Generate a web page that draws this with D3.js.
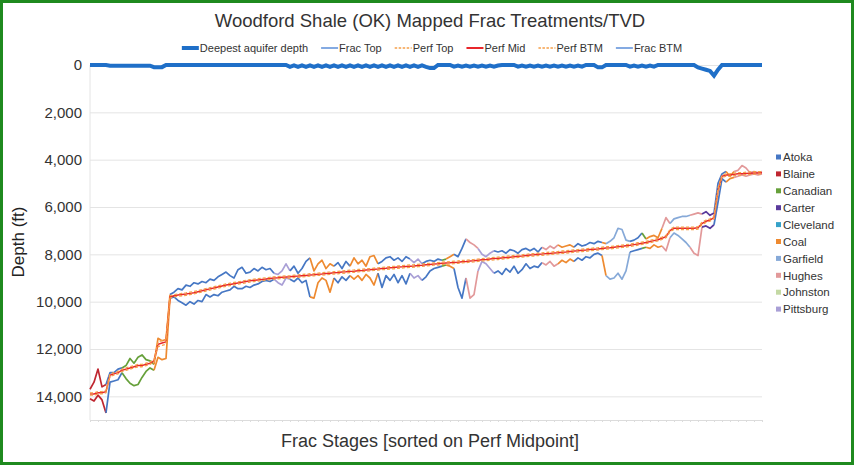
<!DOCTYPE html>
<html>
<head>
<meta charset="utf-8">
<title>Woodford Shale (OK) Mapped Frac Treatments/TVD</title>
<style>
    body { margin: 0; background: #fff; }
    svg { display: block; font-family: "Liberation Sans", Arial, sans-serif; }
    .grid line { stroke: #e4e4e4; stroke-width: 1; }
    .grid .domain { display: none; }
    .yaxis .domain { display: none; }
    .yaxis text { fill: #333; font-size: 15px; }
    .xaxis .domain { stroke: #dcdcdc; }
    .xaxis line { stroke: #dcdcdc; }
    .frac { fill: none; stroke-width: 1.7px; stroke-linejoin: round; }
    .perf-mid { fill: none; stroke: #e8262b; stroke-width: 1.5px; }
    .perf-edge { fill: none; stroke: #f5a04a; stroke-width: 1.3px; stroke-dasharray: 3 2; }
    .aquifer { fill: none; stroke: #1f6fc8; stroke-width: 4px; }
</style>
</head>
<body>
<svg id="chart" width="854" height="465"></svg>
<script src="https://cdn.jsdelivr.net/npm/d3@7"></script>
<script>
// depth values in ft, one entry per frac stage (sorted on perf midpoint)
let perfMid = [
    13900,13900,13850,13850,13800,13100,13050,13000,12900,12850,
    12800,12750,12700,12700,12650,12600,12500,11800,11750,11700,
    9800,9750,9720,9700,9680,9650,9620,9580,9540,9500,
    9460,9420,9380,9340,9300,9270,9240,9210,9180,9150,
    9120,9100,9080,9060,9040,9020,9000,8990,8970,8960,
    8950,8930,8920,8900,8890,8870,8860,8840,8830,8810,
    8800,8780,8770,8750,8740,8720,8710,8690,8680,8660,
    8650,8630,8620,8600,8590,8570,8560,8540,8530,8510,
    8500,8490,8470,8460,8440,8430,8410,8400,8380,8370,
    8360,8340,8330,8310,8300,8280,8270,8250,8230,8220,
    8200,8180,8170,8150,8130,8120,8100,8080,8070,8050,
    8030,8020,8000,7990,7970,7960,7940,7930,7910,7900,
    7880,7860,7850,7830,7820,7800,7780,7770,7750,7730,
    7720,7700,7680,7660,7640,7620,7590,7560,7530,7500,
    7460,7420,7380,7320,7250,7000,6900,6900,6900,6900,
    6900,6900,6880,6700,6600,6550,6450,5300,4700,4650,
    4650,4620,4600,4600,4580,4570,4560,4560,4550
]

let perfTop = [
    13850,13850,13800,13800,13750,13050,13000,12950,12850,12800,
    12750,12700,12650,12650,12600,12550,12450,11700,11650,11600,
    9750,9700,9680,9650,9630,9600,9570,9530,9490,9450,
    9410,9370,9330,9290,9250,9220,9190,9160,9130,9100,
    9070,9050,9030,9010,8990,8970,8950,8940,8920,8910,
    8900,8880,8870,8850,8840,8820,8810,8790,8780,8760,
    8750,8730,8720,8700,8690,8670,8660,8640,8630,8610,
    8600,8580,8570,8550,8540,8520,8510,8490,8480,8460,
    8450,8440,8420,8410,8390,8380,8360,8350,8330,8320,
    8310,8290,8280,8260,8250,8230,8220,8200,8180,8170,
    8150,8130,8120,8100,8080,8070,8050,8030,8020,8000,
    7980,7970,7950,7940,7920,7910,7890,7880,7860,7850,
    7830,7810,7800,7780,7770,7750,7730,7720,7700,7680,
    7670,7650,7630,7610,7590,7570,7540,7510,7480,7450,
    7410,7370,7330,7270,7200,6950,6850,6850,6850,6850,
    6850,6850,6830,6650,6550,6500,6400,5200,4650,4600,
    4600,4570,4550,4550,4530,4520,4510,4510,4500
]

let perfBtm = [
    13950,13950,13900,13900,13850,13150,13100,13050,12950,12900,
    12850,12800,12750,12750,12700,12650,12550,11900,11850,11800,
    9850,9800,9770,9750,9730,9700,9670,9630,9590,9550,
    9510,9470,9430,9390,9350,9320,9290,9260,9230,9200,
    9170,9150,9130,9110,9090,9070,9050,9040,9020,9010,
    9000,8980,8970,8950,8940,8920,8910,8890,8880,8860,
    8850,8830,8820,8800,8790,8770,8760,8740,8730,8710,
    8700,8680,8670,8650,8640,8620,8610,8590,8580,8560,
    8550,8540,8520,8510,8490,8480,8460,8450,8430,8420,
    8410,8390,8380,8360,8350,8330,8320,8300,8280,8270,
    8250,8230,8220,8200,8180,8170,8150,8130,8120,8100,
    8080,8070,8050,8040,8020,8010,7990,7980,7960,7950,
    7930,7910,7900,7880,7870,7850,7830,7820,7800,7780,
    7770,7750,7730,7710,7690,7670,7640,7610,7580,7550,
    7510,7470,7430,7370,7300,7050,6950,6950,6950,6950,
    6950,6950,6930,6750,6650,6600,6500,5400,4750,4700,
    4700,4670,4650,4650,4630,4620,4610,4610,4600
]

let fracTop = [
    13700,13400,12850,13600,13500,13000,13000,12850,12800,12700,
    12400,12600,12350,12250,12450,12500,12650,11550,11650,11600,
    9700,9600,9450,9500,9300,9350,9200,9250,9150,9200,
    9050,9100,8950,8850,8750,8900,9000,8650,8550,8800,
    8750,8600,8700,8550,8650,8600,8800,8850,8700,8400,
    8700,8500,8800,8600,8300,8150,8700,8400,8250,8600,
    8400,8500,8350,8600,8300,8500,8150,8400,8250,8500,
    8100,8050,8400,8300,8150,8100,8250,8150,8300,8100,
    8200,8350,8200,8400,8300,8250,8300,8200,8250,8200,
    8100,8000,8100,7750,7350,7500,7600,7750,8000,8100,
    7950,7850,7900,7850,7950,7800,7850,7950,7800,7750,
    7850,7750,7900,7700,7800,7650,7750,7600,7700,7650,
    7600,7700,7550,7650,7600,7500,7550,7450,7500,7550,
    7450,7300,6900,6950,7400,7450,7400,7300,7100,7350,
    7250,7200,7300,6900,6450,6700,6500,6450,6400,6400,
    6350,6300,6250,6300,6200,6350,6250,5000,4600,4500,
    4700,4500,4450,4250,4350,4550,4500,4550,4500
]

let fracBtm = [
    14100,14200,13950,14150,14700,13400,13350,13300,13000,13250,
    13450,13550,13500,13200,12950,12800,12900,12350,12450,12400,
    9850,9800,9950,10050,10150,10000,10100,9950,10000,9700,
    9800,9700,9750,9600,9550,9500,9350,9450,9450,9350,
    9400,9300,9250,9150,9100,9150,9050,9200,9300,9000,
    9050,9150,9000,9200,9100,9800,9850,9200,9000,9100,
    9600,9000,9200,8950,9100,8900,9050,8900,9100,8850,
    9000,9300,8800,9400,8900,9100,8850,9200,8900,9250,
    8800,9000,8900,9100,8950,8700,8600,8550,8500,8450,
    8500,8600,9400,9850,9000,9850,9700,8700,8300,8400,
    8600,8800,8700,8850,8600,8750,8500,8800,8650,8400,
    8600,8500,8550,8350,8450,8300,8500,8400,8250,8350,
    8200,8300,8150,8250,8100,8150,8000,7950,8050,8900,
    9050,9000,8800,9050,8700,7900,7850,7800,7750,7700,
    7750,7600,7700,7650,7850,7300,7100,7200,7350,7500,
    7700,7950,8050,6850,6800,6900,6750,5800,4800,4950,
    4800,4750,4700,4650,4700,4650,4600,4650,4600
]

let aquifer = [
    0,0,0,0,0,30,30,30,30,30,
    30,30,30,30,30,30,90,90,90,0,
    0,0,0,0,0,0,0,0,0,0,
    0,0,0,0,0,0,0,0,0,0,
    0,0,0,0,0,0,0,0,0,0,
    80,20,80,20,80,20,80,20,80,20,
    80,20,80,20,80,20,80,20,80,20,
    80,20,80,20,80,20,80,20,80,20,
    80,20,80,20,80,130,130,0,0,0,
    0,70,20,70,20,70,20,70,20,70,
    20,70,20,0,0,0,0,70,20,70,
    20,70,20,70,20,70,20,70,20,70,
    20,70,20,70,0,0,0,100,100,0,
    0,0,0,0,0,70,20,70,20,70,
    20,70,0,0,0,0,0,0,0,0,
    0,0,100,150,200,250,450,200,0,0,
    0,0,0,0,0,0,0,0,0
]

// runs of stages by county: [county, first stage, last stage]
let countyRuns = [
    ["Blaine", 0, 4], ["Atoka", 4, 8], ["Canadian", 8, 16], ["Coal", 16, 20],
    ["Atoka", 20, 46], ["Pittsburg", 46, 50], ["Atoka", 50, 55], ["Coal", 55, 61],
    ["Atoka", 61, 65], ["Coal", 65, 72], ["Atoka", 72, 80], ["Pittsburg", 80, 83],
    ["Atoka", 83, 88], ["Canadian", 88, 89], ["Coal", 89, 91], ["Atoka", 91, 94],
    ["Hughes", 94, 97], ["Pittsburg", 97, 101], ["Atoka", 101, 113], ["Hughes", 113, 117],
    ["Coal", 117, 121], ["Atoka", 121, 128], ["Coal", 128, 129], ["Garfield", 129, 135],
    ["Atoka", 135, 138], ["Canadian", 138, 139], ["Coal", 139, 143], ["Hughes", 143, 145],
    ["Garfield", 145, 150], ["Hughes", 150, 153], ["Carter", 153, 156], ["Atoka", 156, 159],
    ["Coal", 159, 161], ["Hughes", 161, 168]
]

let counties = ["Atoka", "Blaine", "Canadian", "Carter", "Cleveland", "Coal", "Garfield", "Hughes", "Johnston", "Pittsburg"]
let countyColors = ["#4677c4", "#bf2630", "#66a03a", "#5a3a9c", "#36a2c9", "#ee8a30", "#86a9d8", "#e2999a", "#c4d9a4", "#a99fd6"]

let yTicks = [0, 2000, 4000, 6000, 8000, 10000, 12000, 14000]

let seriesNames = ["Deepest aquifer depth", "Frac Top", "Perf Top", "Perf Mid", "Perf BTM", "Frac BTM"]

let svg = d3.select("#chart")
let plotLeft = 90, plotRight = 762, plotTop = 65, plotBottom = 420

let xScale = d3.scaleLinear()
    .domain([0, perfMid.length - 1])
    .range([plotLeft, plotRight])

let yScale = d3.scaleLinear()
    .domain([0, 15000])
    .range([plotTop, plotBottom])

let colorScale = d3.scaleOrdinal().domain(counties).range(countyColors)

// frame
svg.append("rect")
    .attr("x", 1.5).attr("y", 1.5)
    .attr("width", 851).attr("height", 462)
    .attr("fill", "none")
    .attr("stroke", "#1f8a1f")
    .attr("stroke-width", 3)

// grid
svg.append("g")
    .attr("class", "grid")
    .attr("transform", `translate(${plotLeft},0)`)
    .call(d3.axisLeft(yScale).tickValues(yTicks).tickSize(-(plotRight - plotLeft)).tickFormat(""))

svg.append("line")
    .attr("x1", plotLeft).attr("x2", plotLeft)
    .attr("y1", plotTop).attr("y2", plotBottom)
    .attr("stroke", "#e4e4e4")

// y axis labels
svg.append("g")
    .attr("class", "yaxis")
    .attr("transform", `translate(${plotLeft - 8},0)`)
    .call(d3.axisLeft(yScale).tickValues(yTicks).tickSize(0).tickPadding(0).tickFormat(d3.format(",")))

// x axis with a small tick per stage
svg.append("g")
    .attr("class", "xaxis")
    .attr("transform", `translate(0,${plotBottom})`)
    .call(d3.axisBottom(xScale).tickValues(d3.range(0, perfMid.length, 2)).tickSize(2).tickSizeOuter(0).tickFormat(""))

let line = d3.line()
    .x(d => xScale(d.i))
    .y(d => yScale(d.v))

let toPoints = arr => arr.map((v, i) => ({ i: i, v: v }))

// frac top / bottom, coloured by county
let fracGroup = svg.append("g")
countyRuns.forEach(run => {
    let [county, a, b] = run
    ;[fracTop, fracBtm].forEach(arr => {
        fracGroup.append("path")
            .datum(toPoints(arr).slice(a, b + 1))
            .attr("class", "frac")
            .attr("stroke", colorScale(county))
            .attr("d", line)
    })
})

// perforations
svg.append("path").datum(toPoints(perfMid)).attr("class", "perf-mid").attr("d", line)
svg.append("path").datum(toPoints(perfTop)).attr("class", "perf-edge").attr("d", line)
svg.append("path").datum(toPoints(perfBtm)).attr("class", "perf-edge").attr("d", line)

// deepest aquifer
svg.append("path").datum(toPoints(aquifer)).attr("class", "aquifer").attr("d", line)

// title
svg.append("text")
    .attr("x", 430).attr("y", 27)
    .attr("text-anchor", "middle")
    .attr("font-size", 18.5)
    .attr("fill", "#333")
    .text("Woodford Shale (OK) Mapped Frac Treatments/TVD")

// axis titles
svg.append("text")
    .attr("transform", "translate(24,242) rotate(-90)")
    .attr("text-anchor", "middle")
    .attr("font-size", 17)
    .attr("fill", "#222")
    .text("Depth (ft)")

svg.append("text")
    .attr("x", 430).attr("y", 447)
    .attr("text-anchor", "middle")
    .attr("font-size", 18)
    .attr("fill", "#333")
    .text("Frac Stages [sorted on Perf Midpoint]")

// top legend
let swatchStyles = [
    { color: "#1f6fc8", width: 4, dash: null },
    { color: "#5b8ed8", width: 1.5, dash: null },
    { color: "#f5a04a", width: 1.5, dash: "2.5 1.5" },
    { color: "#e8262b", width: 2, dash: null },
    { color: "#f5a04a", width: 1.5, dash: "2.5 1.5" },
    { color: "#5b8ed8", width: 1.5, dash: null }
]
let legend = svg.append("g").attr("font-size", 11).attr("fill", "#333")
let cursor = 0
seriesNames.forEach((name, k) => {
    let st = swatchStyles[k]
    let item = legend.append("g").attr("transform", `translate(${cursor},0)`)
    item.append("line")
        .attr("x1", 0).attr("x2", 17)
        .attr("y1", 0).attr("y2", 0)
        .attr("stroke", st.color)
        .attr("stroke-width", st.width)
        .attr("stroke-dasharray", st.dash)
    let t = item.append("text").attr("x", 18).attr("y", 4).text(name)
    cursor += 18 + t.node().getComputedTextLength() + 13
})
legend.attr("transform", `translate(${432 - (cursor - 13) / 2},48)`)

// county legend
let countyLegend = svg.append("g").attr("transform", "translate(776,157)")
counties.forEach((c, k) => {
    let g = countyLegend.append("g").attr("transform", `translate(0,${k * 16.9})`)
    g.append("rect").attr("x", 0).attr("y", -2.5).attr("width", 5).attr("height", 5).attr("fill", colorScale(c))
    g.append("text").attr("x", 7).attr("y", 4.2).attr("font-size", 11.5).attr("fill", "#333").text(c)
})
</script>
</body>
</html>
